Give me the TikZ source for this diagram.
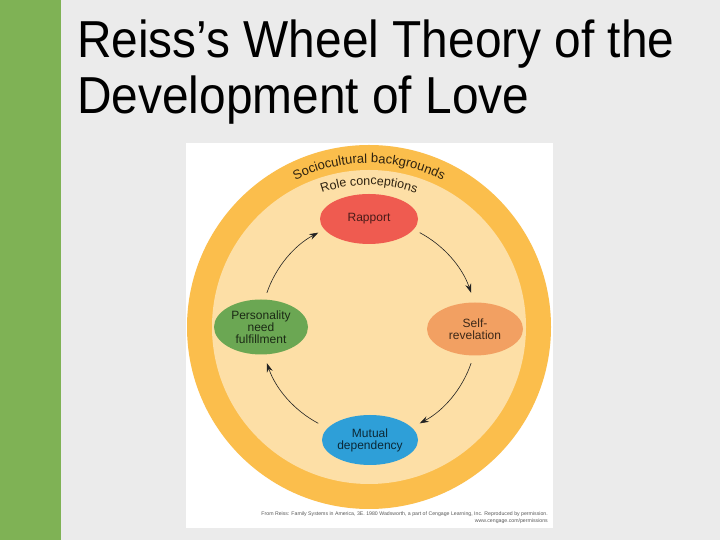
\documentclass[tikz,border=0pt]{standalone}
\usepackage{fontspec}
\setmainfont{Liberation Sans}
\newfontfamily\titlefont[FakeStretch=0.92]{Liberation Sans}
\usetikzlibrary{decorations.text,arrows.meta,calc,shapes.geometric}
\definecolor{bg}{HTML}{EBEBEB}
\definecolor{bar}{HTML}{7FB255}
\definecolor{ring}{HTML}{FBBE4C}
\definecolor{inner}{HTML}{FDDFA6}
\definecolor{rapp}{HTML}{EF5B50}
\definecolor{selfc}{HTML}{F2A062}
\definecolor{pers}{HTML}{6BA753}
\definecolor{mutu}{HTML}{2E9FD8}
\definecolor{ringtext}{HTML}{2E2210}
\definecolor{arrc}{HTML}{222222}
\begin{document}
\begin{tikzpicture}[x=1pt,y=1pt,
  bubble/.style={ellipse, inner sep=0pt, align=center, font=\fontsize{12}{12}\selectfont},
  cyc/.style={draw=arrc, line width=0.6pt, -{Stealth[length=9pt,width=6pt]}},
  credit/.style={anchor=base east, inner sep=0pt, text=black!65, font=\fontsize{5.2}{6}\selectfont}]
\useasboundingbox (0,0) rectangle (720,540);
\fill[bg] (0,0) rectangle (720,540);
\fill[bar] (0,0) rectangle (61,540);
\node[anchor=base west, inner sep=0pt, font=\titlefont\fontsize{52}{57}\selectfont] (t1) at (77,482) {Reiss’s Wheel Theory of the};
\node[anchor=base west, inner sep=0pt, font=\titlefont\fontsize{52}{57}\selectfont] (t2) at (77,426) {Development of Love};
% image panel
\fill[white] (186,12) rectangle (553,397);
\coordinate (C) at (369,213);
\fill[ring] (C) circle[radius=182];
\fill[inner] (C) circle[radius=157];
% curved labels
\path[decorate, decoration={text along path, text align=center,
  text={|\fontsize{13}{13}\selectfont\color{ringtext}|Sociocultural backgrounds}}]
  ($(C)+(150:164)$) arc[start angle=150, end angle=30, radius=164];
\path[decorate, decoration={text along path, text align=center,
  text={|\fontsize{12.5}{12.5}\selectfont\color{ringtext}|Role conceptions}}]
  ($(C)+(140:142)$) arc[start angle=140, end angle=40, radius=142];
% nodes
\node[bubble, fill=rapp, minimum width=98pt, minimum height=50pt, text=rapp!30!black] (rap) at (369,321) {Rapport};
\node[bubble, fill=selfc, minimum width=96pt, minimum height=53pt, text=selfc!25!black] (sel) at (475,211) {Self-\\revelation};
\node[bubble, fill=pers, minimum width=94pt, minimum height=55pt, text=pers!25!black] (per) at (261,213) {Personality\\need\\fulfillment};
\node[bubble, fill=mutu, minimum width=96pt, minimum height=50pt, text=mutu!25!black] (mut) at (370,100) {Mutual\\dependency};
% cycle arrows
\coordinate (O) at (369,212);
\coordinate (a1) at ($(O)+(62:108)$);
\coordinate (a2) at ($(O)+(-19:108)$);
\coordinate (a3) at ($(O)+(-118:108)$);
\coordinate (a4) at ($(O)+(161:108)$);
\draw[cyc] (a1) arc[start angle=62, end angle=19, radius=108];
\draw[cyc] (a2) arc[start angle=-19, end angle=-62, radius=108];
\draw[cyc] (a3) arc[start angle=-118, end angle=-161, radius=108];
\draw[cyc] (a4) arc[start angle=161, end angle=118, radius=108];
% credit
\node[credit] (cr1) at (548,24) {From Reiss: Family Systems in America, 3E. 1980 Wadsworth, a part of Cengage Learning, Inc. Reproduced by permission.};
\node[credit] (cr2) at (548,17) {www.cengage.com/permissions};
\end{tikzpicture}
\end{document}
